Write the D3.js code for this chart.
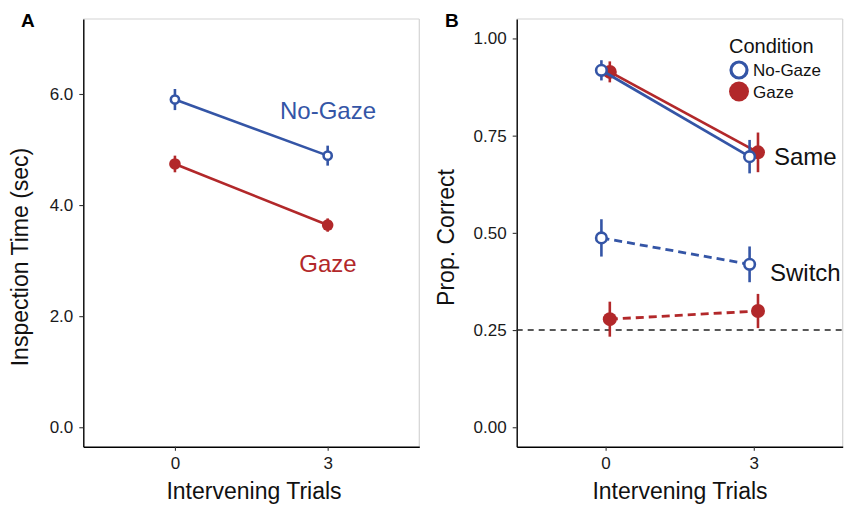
<!DOCTYPE html>
<html><head><meta charset="utf-8">
<script src="https://cdn.jsdelivr.net/npm/d3@7"></script>
<style>
html,body{margin:0;padding:0;background:#fff;}
svg{display:block;font-family:"Liberation Sans",Arial,Helvetica,sans-serif;}
</style></head>
<body>
<svg id="chart" width="844" height="508"></svg>
<script>
// ---- data ----
const trials = [0, 3];
const xTicks = [0, 3];
const yTicksA = [0, 2, 4, 6];
const yTicksB = [0, 0.25, 0.5, 0.75, 1];
const conditions = ["No-Gaze", "Gaze"];
// Panel A: inspection time (sec)
const inspNoGaze = [5.90, 4.89];
const inspNoGazeErr = [0.19, 0.18];
const inspGaze = [4.74, 3.64];
const inspGazeErr = [0.15, 0.12];
// Panel B: proportion correct
const sameNoGaze = [0.918, 0.696];
const sameNoGazeErr = [0.026, 0.043];
const sameGaze = [0.914, 0.707];
const sameGazeErr = [0.027, 0.051];
const switchNoGaze = [0.487, 0.419];
const switchNoGazeErr = [0.048, 0.046];
const switchGaze = [0.278, 0.299];
const switchGazeErr = [0.045, 0.044];
const chance = 0.25;

const BLUE = "#3455a6", RED = "#b2282a";
const svg = d3.select("#chart");

function frame(g, x, y, yTicks, fmt) {
  const [x0, x1] = x.range(), [y0, y1] = y.range();
  g.append("line").attr("x1", x0).attr("x2", x1).attr("y1", y1).attr("y2", y1).attr("stroke", "#d4d4d4").attr("stroke-width", 1.2);
  g.append("line").attr("x1", x1).attr("x2", x1).attr("y1", y1).attr("y2", y0).attr("stroke", "#d4d4d4").attr("stroke-width", 1.2);
  const ay = g.append("g").attr("transform", `translate(${x0},0)`)
    .call(d3.axisLeft(y).tickValues(yTicks).tickFormat(d3.format(fmt)).tickSize(4).tickPadding(6).tickSizeOuter(0));
  const ax = g.append("g").attr("transform", `translate(0,${y0})`)
    .call(d3.axisBottom(x).tickValues(xTicks).tickFormat(d3.format("d")).tickSize(4).tickPadding(6).tickSizeOuter(0));
  [ay, ax].forEach(a => {
    a.select(".domain").attr("stroke", "#000").attr("stroke-width", 1.4);
    a.selectAll(".tick line").attr("stroke", "#333").attr("stroke-width", 1.1);
    a.selectAll(".tick text").attr("fill", "#1a1a1a").style("font-size", "17px").style("font-family", "Liberation Sans, Arial, sans-serif");
  });
}

function series(g, x, y, xs, vals, errs, color, open, dashed, r, lw) {
  const pts = xs.map((t, i) => [x(t), y(vals[i])]);
  g.append("path").attr("d", d3.line()(pts)).attr("fill", "none").attr("stroke", color)
    .attr("stroke-width", lw).attr("stroke-dasharray", dashed ? "8,5" : null);
  xs.forEach((t, i) => {
    g.append("line").attr("x1", x(t)).attr("x2", x(t))
      .attr("y1", y(vals[i] - errs[i])).attr("y2", y(vals[i] + errs[i]))
      .attr("stroke", color).attr("stroke-width", 2.6);
    g.append("circle").attr("cx", x(t)).attr("cy", y(vals[i]))
      .attr("r", open ? r - 1.3 : r)
      .attr("fill", open ? "#fff" : color)
      .attr("stroke", open ? color : "none").attr("stroke-width", open ? 2.6 : 0);
  });
}

// ---- Panel A ----
const xA = d3.scaleLinear().domain([-1.8, 4.8]).range([83.3, 419.3]);
const yA = d3.scaleLinear().domain([-0.35, 7.35]).range([446.7, 19]);
const gA = svg.append("g");
frame(gA, xA, yA, yTicksA, ".1f");
series(gA, xA, yA, trials, inspGaze, inspGazeErr, RED, false, false, 5.8, 2.6);
series(gA, xA, yA, trials, inspNoGaze, inspNoGazeErr, BLUE, true, false, 5.4, 2.6);
gA.append("text").attr("x", 328).attr("y", 119).attr("text-anchor", "middle").attr("fill", BLUE).style("font-size", "24px").text(conditions[0]);
gA.append("text").attr("x", 328).attr("y", 272).attr("text-anchor", "middle").attr("fill", RED).style("font-size", "24px").text(conditions[1]);
gA.append("text").attr("x", 21).attr("y", 26.5).style("font-size", "19px").style("font-weight", "bold").text("A");
gA.append("text").attr("transform", "translate(28,257) rotate(-90)").attr("text-anchor", "middle").style("font-size", "23px").attr("fill", "#111").text("Inspection Time (sec)");
gA.append("text").attr("x", 254).attr("y", 499).attr("text-anchor", "middle").style("font-size", "23px").attr("fill", "#111").text("Intervening Trials");

// ---- Panel B ----
const xB = d3.scaleLinear().domain([-1.8, 4.8]).range([516.7, 842.7]);
const yB = d3.scaleLinear().domain([-0.05, 1.05]).range([446.7, 19]);
const gB = svg.append("g");
frame(gB, xB, yB, yTicksB, ".2f");
gB.append("line").attr("x1", xB.range()[0]).attr("x2", 844).attr("y1", yB(chance)).attr("y2", yB(chance))
  .attr("stroke", "#222").attr("stroke-width", 1.4).attr("stroke-dasharray", "6,5");
const dodge = 0.085;
const xsNo = trials.map(t => t - dodge), xsG = trials.map(t => t + dodge);
series(gB, xB, yB, xsG, switchGaze, switchGazeErr, RED, false, true, 7, 2.8);
series(gB, xB, yB, xsNo, switchNoGaze, switchNoGazeErr, BLUE, true, true, 6.6, 2.8);
series(gB, xB, yB, xsG, sameGaze, sameGazeErr, RED, false, false, 7, 2.8);
series(gB, xB, yB, xsNo, sameNoGaze, sameNoGazeErr, BLUE, true, false, 6.6, 2.8);
gB.append("text").attr("x", 774).attr("y", 165).style("font-size", "24px").attr("fill", "#111").text("Same");
gB.append("text").attr("x", 770).attr("y", 281).style("font-size", "24px").attr("fill", "#111").text("Switch");
gB.append("text").attr("x", 445).attr("y", 26.5).style("font-size", "19px").style("font-weight", "bold").text("B");
gB.append("text").attr("transform", "translate(454,237.5) rotate(-90)").attr("text-anchor", "middle").style("font-size", "23px").attr("fill", "#111").text("Prop. Correct");
gB.append("text").attr("x", 680).attr("y", 499).attr("text-anchor", "middle").style("font-size", "23px").attr("fill", "#111").text("Intervening Trials");

// legend
const leg = gB.append("g");
leg.append("text").attr("x", 729).attr("y", 53).style("font-size", "20px").attr("fill", "#111").text("Condition");
const legY = [70, 91.5];
conditions.forEach((c, i) => {
  const open = i === 0;
  leg.append("circle").attr("cx", 739).attr("cy", legY[i]).attr("r", open ? 8 : 10)
    .attr("fill", open ? "#fff" : RED).attr("stroke", open ? BLUE : "none").attr("stroke-width", open ? 3.2 : 0);
  leg.append("text").attr("x", 753).attr("y", legY[i] + 6).style("font-size", "17px").attr("fill", "#111").text(c);
});
</script>
</body></html>
